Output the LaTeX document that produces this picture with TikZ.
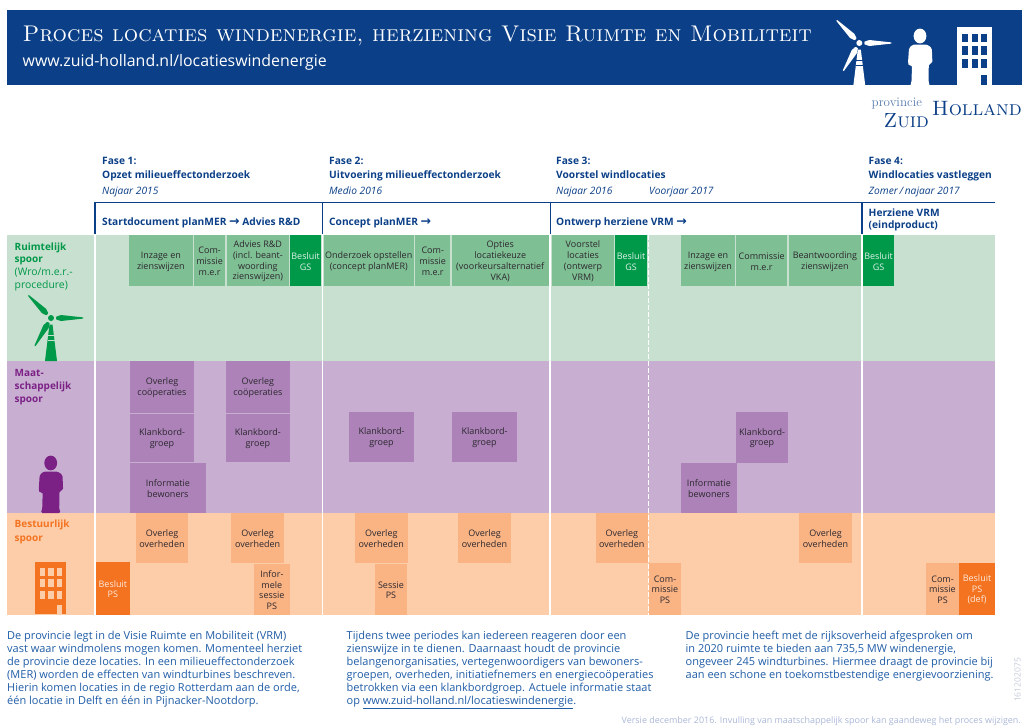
\documentclass[tikz,border=0pt]{standalone}
\usepackage{fontspec}
\newfontfamily\bodyf{Open Sans}
\newfontfamily\arrowf{DejaVu Sans}
\definecolor{zhblue}{HTML}{0B3F87}
\definecolor{txtblue}{HTML}{1F5CA6}
\definecolor{greenband}{HTML}{C8E0CF}
\definecolor{purpleband}{HTML}{C8AFD1}
\definecolor{orangeband}{HTML}{FDCDAA}
\definecolor{greenmid}{HTML}{7FBF94}
\definecolor{purplemid}{HTML}{AC82B8}
\definecolor{orangemid}{HTML}{FAB383}
\definecolor{greendark}{HTML}{009849}
\definecolor{purpledark}{HTML}{7B2186}
\definecolor{orangedark}{HTML}{F47320}
\definecolor{boxtxt}{HTML}{2C282E}
\definecolor{footer}{HTML}{A9B6D6}
\definecolor{codegrey}{HTML}{C3CAD8}
\newcommand{\arr}{{\arrowf\bfseries\fontsize{12.5}{12}\selectfont\char"2192}}
\tikzset{
  boxbase/.style={inner sep=0pt,outer sep=0pt,align=center,text=boxtxt,font=\bodyf\fontsize{9}{10.7}\selectfont},
  gmid/.style={boxbase,fill=greenmid},
  pmid/.style={boxbase,fill=purplemid},
  omid/.style={boxbase,fill=orangemid},
  gdark/.style={boxbase,fill=greendark,text=white!88!greendark},
  odark/.style={boxbase,fill=orangedark,text=white!85!orangedark},
  band/.style={inner sep=0pt,outer sep=0pt},
  fase/.style={anchor=base west,inner sep=0pt,text=zhblue,font=\bodyf\bfseries\fontsize{10.2}{12}\selectfont},
  faseit/.style={anchor=base west,inner sep=0pt,text=zhblue,font=\bodyf\itshape\fontsize{10.2}{12}\selectfont},
  spoor/.style={anchor=base west,inner sep=0pt,font=\bodyf\fontsize{10.4}{12.5}\selectfont},
  spoorb/.style={anchor=base west,inner sep=0pt,font=\bodyf\bfseries\fontsize{10}{12.5}\selectfont},
  para/.style={anchor=north west,inner sep=0pt,text=txtblue,align=left,font=\bodyf\fontsize{11}{13}\selectfont},
  phaseline/.style={draw=zhblue,line width=1.4pt},
  gapline/.style={draw=white,line width=1.6pt},
}
\newcommand{\bx}[7]{%
  \pgfmathsetmacro{\bxw}{#5-#3}\pgfmathsetmacro{\bxh}{#6-#4}%
  \pgfmathsetmacro{\bxx}{(#3+#5)/2}\pgfmathsetmacro{\bxy}{(#4+#6)/2}%
  \node[#2,minimum width=\bxw pt,minimum height=\bxh pt] (#1) at (\bxx,\bxy) {\rule{0pt}{8.5pt}#7};}
% hub at the origin, base 43 below
\newcommand{\turbine}[3]{%
  \begin{scope}[shift={(#1)}]
    \fill[#2] (0,0) circle (3);
    \foreach \a in {0,135,240}{
      \fill[#2,rotate=\a] (5,0) -- (5.5,-1.5) -- (10,-3) -- (32,-0.6) -- (32,0.6) -- (10,3) -- (5.5,1.5) -- cycle;}
    \fill[#2] (-1.5,6.5) -- (1.5,6.5) -- (6,43) -- (-6,43) -- cycle;
    \draw[#3,line width=0.8pt] (-3.5,17) -- (3.5,17) (-3.5,22) -- (3.5,22);
  \end{scope}}
% head centre at the origin, feet 50 below
\newcommand{\persn}[2]{%
  \begin{scope}[shift={(#1)}]
    \fill[#2] (0,0) ellipse (6.4 and 7.4);
    \fill[#2,rounded corners=1.5pt] (-7,8.5) -- (7,8.5) -- (11.8,12) -- (12.4,27) -- (8.8,28) -- (8.5,46)
       -- (10,50) -- (-10,50) -- (-8.5,46) -- (-8,29) -- (-11,30) -- (-12,27) -- (-11,12) -- cycle;
  \end{scope}}
\newcommand{\bldg}[4]{%
  \begin{scope}[shift={(#1)},xscale=#4,yscale=#4]
    \fill[#2] (0,0) rectangle (31,52);
    \foreach \u in {4.2,13,21.4}{\foreach \v in {6,17,28.4}{
      \fill[#3] (\u,\v) rectangle +(5.4,7.8);}}
    \fill[#3] (21.4,43) rectangle (26.8,52);
  \end{scope}}
\begin{document}
\begin{tikzpicture}[x=1pt,y=-1pt]
\useasboundingbox (0,0) rectangle (1022,726);
% banner
\fill[zhblue] (7,9.5) rectangle (1022,85);
\node[anchor=base west,inner sep=0pt,text=white,font=\rmfamily\scshape\fontsize{22.7}{24}\selectfont\addfontfeatures{FakeBold=0.25}] (title) at (22.5,41.5) {Proces locaties windenergie, herziening Visie Ruimte en Mobiliteit};
\node[anchor=base west,inner sep=0pt,text=white,font=\bodyf\fontsize{15.9}{18}\selectfont] (url) at (22.5,66.5) {www.zuid-holland.nl/locatieswindenergie};
\turbine{859.3,43}{white}{zhblue}
\persn{920,36}{white}
\bldg{957,27}{white}{zhblue}{1.12}
% logo
\node[anchor=base west,inner sep=0pt,text=zhblue!70!white,font=\rmfamily\fontsize{13}{14}\selectfont\addfontfeatures{LetterSpace=6}] (logoa) at (871.5,106.5) {provincie};
\node[anchor=base east,inner sep=0pt,text=zhblue,font=\rmfamily\scshape\fontsize{20.8}{22}\selectfont] (logob) at (1022,115) {Holland};
\node[anchor=base east,inner sep=0pt,text=zhblue,font=\rmfamily\scshape\fontsize{20.5}{22}\selectfont] (logoc) at (929,127.5) {Zuid};
% phase headings
\node[fase] (f1a) at (102,164) {Fase 1:};
\node[fase] (f1b) at (102,178) {Opzet milieueffectonderzoek};
\node[faseit] (f1c) at (102,194) {Najaar 2015};
\node[fase] (f2a) at (329,164) {Fase 2:};
\node[fase] (f2b) at (329,178) {Uitvoering milieueffectonderzoek};
\node[faseit] (f2c) at (329,194) {Medio 2016};
\node[fase] (f3a) at (556,164) {Fase 3:};
\node[fase] (f3b) at (556,178) {Voorstel windlocaties};
\node[faseit] (f3c) at (556,194) {Najaar 2016};
\node[faseit] (f3d) at (649,194) {Voorjaar 2017};
\node[fase] (f4a) at (868.5,164) {Fase 4:};
\node[fase] (f4b) at (868.5,178) {Windlocaties vastleggen};
\node[faseit] (f4c) at (868.5,194) {Zomer\,/\,najaar 2017};
\node[fase] (h1) at (102,225) {Startdocument planMER \arr{} Advies R\&D};
\node[fase] (h2) at (329,225) {Concept planMER \arr};
\node[fase] (h3) at (556,225) {Ontwerp herziene VRM \arr};
\node[fase] (h4a) at (868.5,216) {Herziene VRM};
\node[fase] (h4b) at (868.5,228.3) {(eindproduct)};
% bands
\bx{bandg}{band,fill=greenband}{7}{235}{995}{361}{}
\bx{bandp}{band,fill=purpleband}{7}{361}{995}{513}{}
\bx{bando}{band,fill=orangeband}{7}{513}{995}{614.5}{}
% phase rules
\draw[phaseline] (95,234) -- (95,202.5) -- (995,202.5);
\draw[phaseline] (322.3,202.5) -- (322.3,234);
\draw[phaseline] (550.2,202.5) -- (550.2,234);
\draw[phaseline] (862,202.5) -- (862,234);
\draw[gapline] (95,235) -- (95,614.5);
\draw[gapline] (322.3,235) -- (322.3,614.5);
\draw[gapline] (550.2,235) -- (550.2,614.5);
\draw[gapline] (862,235) -- (862,614.5);
\draw[gapline,dash pattern=on 4.5pt off 2.5pt] (648.4,235) -- (648.4,614.5);
% spoor labels
\node[spoorb,text=greendark] (s1a) at (14.5,250) {Ruimtelijk};
\node[spoorb,text=greendark] (s1b) at (14.5,262.5) {spoor};
\node[spoor,text=greendark] (s1c) at (14.5,275) {(Wro/m.e.r.-};
\node[spoor,text=greendark] (s1d) at (14.5,288) {procedure)};
\node[spoorb,text=purpledark] (s2a) at (14.5,376.5) {Maat-};
\node[spoorb,text=purpledark] (s2b) at (14.5,389) {schappelijk};
\node[spoorb,text=purpledark] (s2c) at (14.5,402.3) {spoor};
\node[spoorb,text=orangedark] (s3a) at (14.5,527.7) {Bestuurlijk};
\node[spoorb,text=orangedark] (s3b) at (14.5,541) {spoor};
\turbine{51,318}{greendark}{greenband}
\persn{50.7,463}{purpledark}
\bldg{35.3,562.3}{orangedark}{orangeband}{1}
% green row
\bx{g1}{gmid}{129}{235}{192.7}{286}{Inzage en\\zienswijzen}
\bx{g2}{gmid}{194}{235}{225.2}{286}{Com-\\missie\\m.e.r}
\bx{g3}{gmid}{226.7}{235}{289}{286}{Advies R\&D\\(incl. beant-\\woording\\zienswijzen)}
\bx{g4}{gdark}{290}{235}{321.2}{286}{Besluit\\GS}
\bx{g5}{gmid}{323.5}{235}{414}{286}{Onderzoek opstellen\\(concept planMER)}
\bx{g6}{gmid}{415.2}{235}{450.2}{286}{Com-\\missie\\m.e.r}
\bx{g7}{gmid}{451.5}{235}{549}{286}{Opties\\locatiekeuze\\(voorkeursalternatief\\VKA)}
\bx{g8}{gmid}{551.7}{235}{614.3}{286}{Voorstel\\locaties\\(ontwerp\\VRM)}
\bx{g9}{gdark}{615}{235}{647}{286}{Besluit\\GS}
\bx{g10}{gmid}{680.7}{235}{735.3}{286}{Inzage en\\zienswijzen}
\bx{g11}{gmid}{736}{235}{787.3}{286}{Commissie\\m.e.r}
\bx{g12}{gmid}{788.8}{235}{861}{286}{Beantwoording\\zienswijzen}
\bx{g13}{gdark}{863}{235}{894}{286}{Besluit\\GS}
% purple row
\bx{p1}{pmid}{130}{361}{194}{412.7}{Overleg\\coöperaties}
\bx{p2}{pmid}{130}{413.8}{194}{461.8}{Klankbord-\\groep}
\bx{p3}{pmid}{130}{462.8}{205.7}{513}{Informatie\\bewoners}
\bx{p4}{pmid}{225.7}{361}{290}{412.7}{Overleg\\coöperaties}
\bx{p5}{pmid}{225.7}{413.8}{290}{461.8}{Klankbord-\\groep}
\bx{p6}{pmid}{349}{412}{414}{462}{Klankbord-\\groep}
\bx{p7}{pmid}{452}{412}{517}{462}{Klankbord-\\groep}
\bx{p8}{pmid}{736}{411.8}{788}{463}{Klankbord-\\groep}
\bx{p9}{pmid}{680.7}{462.8}{737}{513}{Informatie\\bewoners}
% orange row
\bx{o1}{omid}{135.7}{513}{188.3}{563}{Overleg\\overheden}
\bx{o2}{omid}{231.3}{513}{284}{563}{Overleg\\overheden}
\bx{o3}{odark}{96}{562.3}{129.7}{614.5}{Besluit\\PS}
\bx{o4}{omid}{253.7}{564.3}{290}{614.5}{Infor-\\mele\\sessie\\PS}
\bx{o5}{omid}{355}{513}{407.5}{563}{Overleg\\overheden}
\bx{o6}{omid}{458}{513}{511}{563}{Overleg\\overheden}
\bx{o7}{omid}{375}{564.3}{407}{614.5}{Sessie\\PS}
\bx{o8}{omid}{596}{513}{647.5}{563}{Overleg\\overheden}
\bx{o9}{omid}{649.3}{562.5}{680.7}{614.5}{Com-\\missie\\PS}
\bx{o10}{omid}{799}{513}{852}{563}{Overleg\\overheden}
\bx{o11}{omid}{926}{562.5}{959}{614.5}{Com-\\missie\\PS}
\bx{o12}{odark}{959}{562.5}{995}{614.5}{Besluit\\PS\\(def)}
% paragraphs
\node[para] (t1) at (7,630.5) {De provincie legt in de Visie Ruimte en Mobiliteit (VRM)\\vast waar windmolens mogen komen. Momenteel herziet\\de provincie deze locaties. In een milieueffectonderzoek\\(MER) worden de effecten van windturbines beschreven.\\Hierin komen locaties in de regio Rotterdam aan de orde,\\één locatie in Delft en één in Pijnacker-Nootdorp.};
\node[para] (t2) at (346.5,630.5) {Tijdens twee periodes kan iedereen reageren door een\\zienswijze in te dienen. Daarnaast houdt de provincie\\belangenorganisaties, vertegenwoordigers van bewoners-\\groepen, overheden, initiatiefnemers en energiecoöperaties\\betrokken via een klankbordgroep. Actuele informatie staat\\op \underline{www.zuid-holland.nl/locatieswindenergie}.};
\node[para] (t3) at (685.5,630.5) {De provincie heeft met de rijksoverheid afgesproken om\\in 2020 ruimte te bieden aan 735,5 MW windenergie,\\ongeveer 245 windturbines. Hiermee draagt de provincie bij\\aan een schone en toekomstbestendige energievoorziening.};
\node[anchor=base east,inner sep=0pt,text=footer,font=\bodyf\fontsize{8.95}{10}\selectfont] (foot) at (1021,723.5) {Versie december 2016. Invulling van maatschappelijk spoor kan gaandeweg het proces wijzigen.};
\node[rotate=90,inner sep=0pt,text=codegrey,font=\bodyf\fontsize{8.5}{9}\selectfont] (code) at (1017.5,680) {161202075};
\end{tikzpicture}
\end{document}
